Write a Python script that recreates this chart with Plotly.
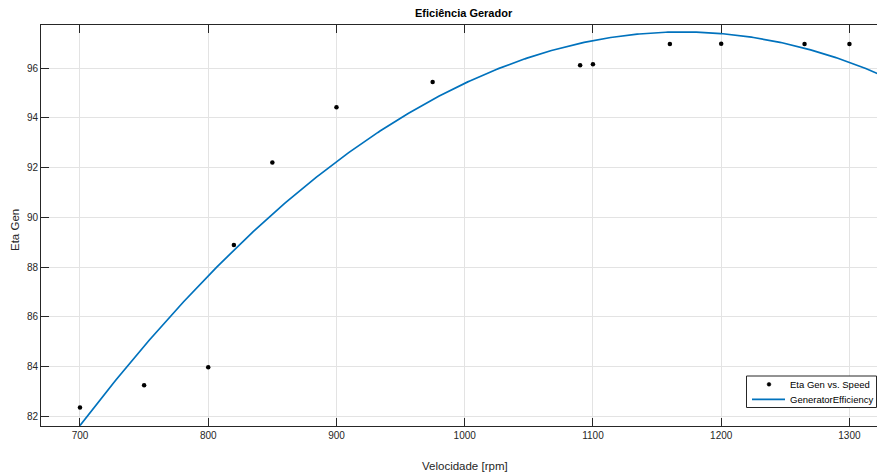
import numpy as np
import plotly.graph_objects as go

# Measured data
speed = [700, 750, 800, 820, 850, 900, 975, 1090, 1100, 1160, 1200, 1265, 1300]
eta_gen = [82.36, 83.26, 83.98, 88.89, 92.21, 94.43, 95.44, 96.11, 96.15, 96.97, 96.98, 96.97, 96.97]

# Quadratic fit (vertex form)
fit_peak_x = 1169.6
fit_peak_y = 97.45
fit_curv = -7.17e-5

x_ticks = [700, 800, 900, 1000, 1100, 1200, 1300]
y_ticks = [82, 84, 86, 88, 90, 92, 94, 96]
legend_names = ["Eta Gen vs. Speed", "GeneratorEfficiency"]

xf = np.linspace(700, 1335, 400)
yf = fit_peak_y + fit_curv * (xf - fit_peak_x) ** 2

W, H = 877, 475
L, R, T, B = 41, 0, 25, 49
PW, PH = W - L - R, H - T - B


def px_x(xp):
    return (xp - L) / PW


def px_y(yp):
    return (H - B - yp) / PH


font = "Liberation Sans, Arial, Helvetica, sans-serif"
tickcol = "#262626"
fit_color = "#0072BD"

fig = go.Figure()
fig.add_trace(go.Scatter(
    x=speed, y=eta_gen, mode="markers", name=legend_names[0],
    marker=dict(color="black", size=4.5), showlegend=False,
))
fig.add_trace(go.Scatter(
    x=xf, y=yf, mode="lines", name=legend_names[1],
    line=dict(color=fit_color, width=1.7), showlegend=False,
))

# Legend box (MATLAB style, compact)
lx0, lx1, ly0, ly1 = 746.5, 876.5, 376, 407.5
shapes = [
    dict(type="rect", xref="paper", yref="paper",
         x0=px_x(lx0), x1=px_x(lx1), y0=px_y(ly1), y1=px_y(ly0),
         line=dict(color="#262626", width=1), fillcolor="white", layer="above"),
    dict(type="circle", xref="paper", yref="paper",
         x0=px_x(769 - 1.9), x1=px_x(769 + 1.9), y0=px_y(384.3 + 1.9), y1=px_y(384.3 - 1.9),
         line=dict(color="black", width=0.5), fillcolor="black", layer="above"),
    dict(type="line", xref="paper", yref="paper",
         x0=px_x(752), x1=px_x(785), y0=px_y(399.3), y1=px_y(399.3),
         line=dict(color=fit_color, width=1.7), layer="above"),
]

annotations = [
    dict(text="<b>Eficiência Gerador</b>", xref="paper", yref="paper",
         x=px_x(464), y=px_y(13), xanchor="center", yanchor="middle",
         showarrow=False, font=dict(size=11, color="black", family=font)),
    dict(text="Velocidade [rpm]", xref="paper", yref="paper",
         x=px_x(465), y=px_y(466), xanchor="center", yanchor="middle",
         showarrow=False, font=dict(size=11.5, color=tickcol, family=font)),
    dict(text="Eta Gen", xref="paper", yref="paper",
         x=px_x(15), y=px_y(230), xanchor="center", yanchor="middle",
         textangle=-90, showarrow=False, font=dict(size=11.5, color=tickcol, family=font)),
]
for name, ypx in zip(legend_names, [384.3, 399.3]):
    annotations.append(dict(
        text=name, xref="paper", yref="paper", x=px_x(787.5), y=px_y(ypx),
        xanchor="left", yanchor="middle", showarrow=False,
        font=dict(size=9.5, color="black", family=font)))

fig.update_layout(
    width=W, height=H,
    margin=dict(l=L, r=R, t=T, b=B, pad=0),
    paper_bgcolor="white", plot_bgcolor="white",
    font=dict(family=font, size=10, color=tickcol),
    showlegend=False,
    shapes=shapes,
    annotations=annotations,
)

fig.update_xaxes(
    range=[669.6, 1321.5], tickvals=x_ticks, ticktext=[str(v) for v in x_ticks],
    showgrid=True, gridcolor="#e3e3e3", gridwidth=1,
    showline=True, linecolor="#262626", linewidth=1, mirror="ticks",
    ticks="inside", ticklen=8, tickcolor="#262626", tickwidth=1,
    zeroline=False, tickfont=dict(size=10, color=tickcol),
)
fig.update_yaxes(
    range=[81.62, 97.73], tickvals=y_ticks, ticktext=[str(v) for v in y_ticks],
    showgrid=True, gridcolor="#e3e3e3", gridwidth=1,
    showline=True, linecolor="#262626", linewidth=1,
    ticks="inside", ticklen=8, tickcolor="#262626", tickwidth=1,
    zeroline=False, tickfont=dict(size=10, color=tickcol),
)

fig.write_html("out.html")
